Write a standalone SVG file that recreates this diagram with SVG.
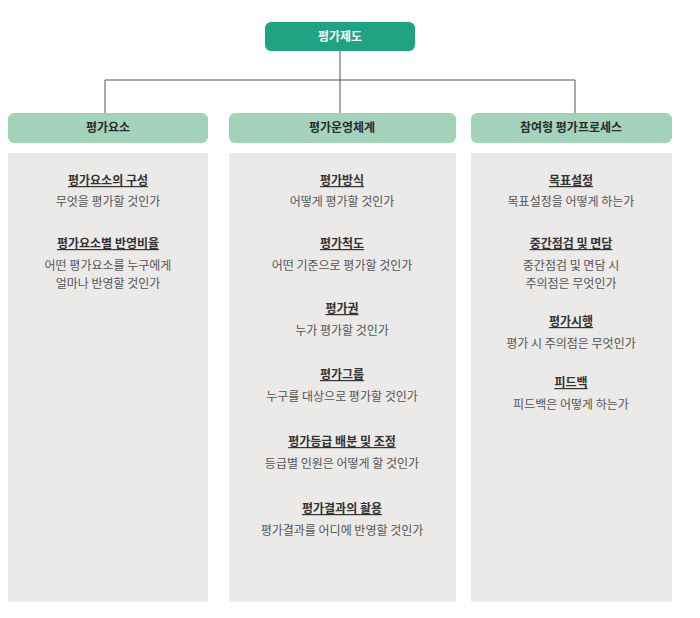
<svg xmlns="http://www.w3.org/2000/svg" width="700" height="618" viewBox="0 0 700 618">
<style>
text{font-family:"Noto Sans CJK KR","Noto Sans",sans-serif;text-anchor:middle;font-size:12px}
.hd{font-weight:bold;fill:#2b2b2b}
.t{font-weight:bold;fill:#333;text-decoration:underline}
.d{fill:#555}
.h{fill:#a3d3bb}
.p{fill:#ebeae8}
</style>
<rect width="700" height="618" fill="#fff"/>
<g id="connectors" stroke="#555" stroke-width="1" fill="none">
<path d="M340 51V113M105 80H575M105 80V113M575 80V113"/>
</g>
<g id="root"><rect x="265" y="22" width="150" height="29" rx="6" fill="#1fa383"/><text x="340" y="41" font-weight="bold" fill="#fff">평가제도</text></g>
<g id="col1">
<rect class="h" x="8" y="113" width="200" height="30" rx="6"/><text class="hd" x="108" y="132">평가요소</text>
<rect class="p" x="8" y="153" width="200" height="449"/>
<text class="t" x="108" y="185">평가요소의 구성</text><text class="d" x="108" y="206">무엇을 평가할 것인가</text>
<text class="t" x="108" y="248">평가요소별 반영비율</text><text class="d" x="108" y="270">어떤 평가요소를 누구에게</text><text class="d" x="108" y="288">얼마나 반영할 것인가</text>
</g>
<g id="col2">
<rect class="h" x="229" y="113" width="227" height="30" rx="6"/><text class="hd" x="342" y="132">평가운영체계</text>
<rect class="p" x="229" y="153" width="227" height="449"/>
<text class="t" x="342" y="185">평가방식</text><text class="d" x="342" y="206">어떻게 평가할 것인가</text>
<text class="t" x="342" y="248">평가척도</text><text class="d" x="342" y="270">어떤 기준으로 평가할 것인가</text>
<text class="t" x="342" y="313">평가권</text><text class="d" x="342" y="335">누가 평가할 것인가</text>
<text class="t" x="342" y="379">평가그룹</text><text class="d" x="342" y="401">누구를 대상으로 평가할 것인가</text>
<text class="t" x="342" y="446">평가등급 배분 및 조정</text><text class="d" x="342" y="468">등급별 인원은 어떻게 할 것인가</text>
<text class="t" x="342" y="513">평가결과의 활용</text><text class="d" x="342" y="535">평가결과를 어디에 반영할 것인가</text>
</g>
<g id="col3">
<rect class="h" x="471" y="113" width="201" height="30" rx="6"/><text class="hd" x="571" y="132">참여형 평가프로세스</text>
<rect class="p" x="471" y="153" width="201" height="449"/>
<text class="t" x="571" y="185">목표설정</text><text class="d" x="571" y="206">목표설정을 어떻게 하는가</text>
<text class="t" x="571" y="248">중간점검 및 면담</text><text class="d" x="571" y="270">중간점검 및 면담 시</text><text class="d" x="571" y="288">주의점은 무엇인가</text>
<text class="t" x="571" y="326">평가시행</text><text class="d" x="571" y="348">평가 시 주의점은 무엇인가</text>
<text class="t" x="571" y="387">피드백</text><text class="d" x="571" y="409">피드백은 어떻게 하는가</text>
</g>
</svg>
